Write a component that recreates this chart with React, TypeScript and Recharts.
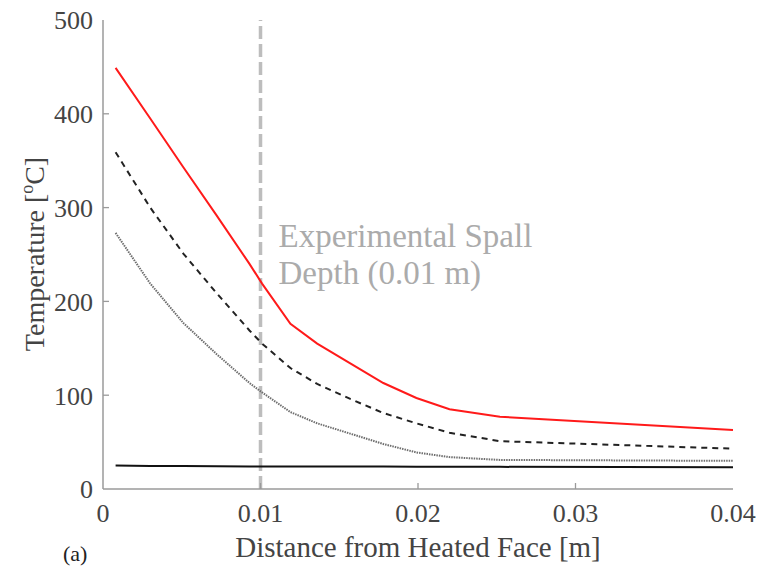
import React from "react";
import {
  LineChart,
  Line,
  XAxis,
  YAxis,
  ReferenceLine,
} from "recharts";

// distance from heated face [m]
const distances = [0.0008, 0.003, 0.0051, 0.0072, 0.0093, 0.0101, 0.0119, 0.0136, 0.0157, 0.0178, 0.0199, 0.022, 0.0252, 0.04];
// temperature profiles [°C]
const redTemps = [449, 395, 343, 292, 240, 219, 176, 155, 134, 113, 97, 85, 77, 63];
const dashedTemps = [359, 300, 251, 209, 169, 155, 129, 112, 96, 81, 70, 60, 51, 43];
const dottedTemps = [273, 219, 177, 144, 113, 103, 82, 70, 59, 48, 39, 34, 31, 30];
const baseTemps = [25, 24.6, 24.4, 24.2, 24, 24, 24, 24, 24, 24, 23.8, 23.7, 23.6, 23.3];

const xTicks = [0, 0.01, 0.02, 0.03, 0.04];
const yTicks = [0, 100, 200, 300, 400, 500];
const spallDepth = 0.01;

const data = distances.map((d, i) => ({
  x: d,
  red: redTemps[i],
  dashed: dashedTemps[i],
  dotted: dottedTemps[i],
  base: baseTemps[i],
}));

const FONT = "'Liberation Serif', 'Times New Roman', serif";
const FRAME = "#9a9a9a";
const TICK_TEXT = "#444";
const X_MARGIN = 13;
const Y_MARGIN = 10;

const fmtX = (v: number) => (v === 0 ? "0" : v.toFixed(2));

const BottomTick = ({ x, y, payload }: any) => {
  const v = payload.value;
  const axisY = y - X_MARGIN;
  const inner = v !== 0 && v !== 0.04;
  return (
    <g>
      {inner && <line x1={x} x2={x} y1={axisY} y2={axisY - 6} stroke={FRAME} strokeWidth={1.3} />}
      <text x={x} y={y} dy="0.75em" textAnchor="middle" fill={TICK_TEXT} style={{ fontSize: 26, fontFamily: FONT }}>
        {fmtX(v)}
      </text>
    </g>
  );
};

const TopTick = ({ x, y, payload }: any) => {
  const v = payload.value;
  if (v === 0 || v === 0.04) return <g />;
  return <line x1={x} x2={x} y1={y} y2={y + 6} stroke={FRAME} strokeWidth={1.3} />;
};

const LeftTick = ({ x, y, payload }: any) => {
  const v = payload.value;
  const axisX = x + Y_MARGIN;
  const inner = v !== 0 && v !== 500;
  return (
    <g>
      {inner && <line x1={axisX} x2={axisX + 6} y1={y} y2={y} stroke={FRAME} strokeWidth={1.3} />}
      <text x={x} y={y} dy="0.36em" textAnchor="end" fill={TICK_TEXT} style={{ fontSize: 26, fontFamily: FONT }}>
        {v}
      </text>
    </g>
  );
};

const RightTick = ({ x, y, payload }: any) => {
  const v = payload.value;
  if (v === 0 || v === 500) return <g />;
  return <line x1={x} x2={x - 6} y1={y} y2={y} stroke={FRAME} strokeWidth={1.3} />;
};

const YLabel = () => (
  <text
    x={0}
    y={0}
    transform="translate(44, 254) rotate(-90)"
    textAnchor="middle"
    fill={TICK_TEXT}
    style={{ fontSize: 28, fontFamily: FONT }}
  >
    Temperature [
    <tspan style={{ fontSize: 18 }} dy={-11}>o</tspan>
    <tspan dy={11}>C]</tspan>
  </text>
);

const XLabel = () => (
  <g>
    <text x={418} y={557} textAnchor="middle" fill={TICK_TEXT} style={{ fontSize: 29, fontFamily: FONT }}>
      Distance from Heated Face [m]
    </text>
    <text x={63} y={561} fill="#222" style={{ fontSize: 22, fontFamily: FONT }}>
      (a)
    </text>
  </g>
);

const SpallLabel = ({ viewBox }: any) => {
  const x = viewBox.x + 18;
  return (
    <g fill="#ababab" style={{ fontSize: 33, fontFamily: FONT }}>
      <text x={x} y={247}>Experimental Spall</text>
      <text x={x} y={284}>Depth (0.01 m)</text>
    </g>
  );
};

export default function App() {
  return (
    <div style={{ position: "absolute", left: 0, top: 0, background: "#fff" }}>
      <LineChart
        width={759}
        height={570}
        data={data}
        margin={{ top: 20, right: 26, left: 0, bottom: 0 }}
      >
        <XAxis
          dataKey="x"
          type="number"
          domain={[0, 0.04]}
          ticks={xTicks}
          interval={0}
          height={81}
          tickSize={0}
          tickMargin={X_MARGIN}
          tick={<BottomTick />}
          axisLine={{ stroke: FRAME, strokeWidth: 1.5 }}
          label={<XLabel />}
        />
        <XAxis
          xAxisId="top"
          orientation="top"
          dataKey="x"
          type="number"
          domain={[0, 0.04]}
          ticks={xTicks}
          interval={0}
          height={0}
          tickSize={0}
          tickMargin={0}
          tick={<TopTick />}
          axisLine={{ stroke: FRAME, strokeWidth: 1.5 }}
        />
        <YAxis
          type="number"
          domain={[0, 500]}
          ticks={yTicks}
          interval={0}
          width={103}
          tickSize={0}
          tickMargin={Y_MARGIN}
          tick={<LeftTick />}
          axisLine={{ stroke: FRAME, strokeWidth: 1.5 }}
          label={<YLabel />}
        />
        <YAxis
          yAxisId="right"
          orientation="right"
          type="number"
          domain={[0, 500]}
          ticks={yTicks}
          interval={0}
          width={0}
          tickSize={0}
          tickMargin={0}
          tick={<RightTick />}
          axisLine={{ stroke: FRAME, strokeWidth: 1.5 }}
        />
        <ReferenceLine
          x={spallDepth}
          stroke="#bdbdbd"
          strokeWidth={3.5}
          strokeDasharray="13 5"
          label={<SpallLabel />}
        />
        <Line
          dataKey="base"
          stroke="#111"
          strokeWidth={2}
          dot={false}
          isAnimationActive={false}
        />
        <Line
          dataKey="dotted"
          stroke="#6e6e6e"
          strokeWidth={2}
          strokeDasharray="1.5 1"
          dot={false}
          isAnimationActive={false}
        />
        <Line
          dataKey="dashed"
          stroke="#222"
          strokeWidth={2}
          strokeDasharray="6 5"
          dot={false}
          isAnimationActive={false}
        />
        <Line
          dataKey="red"
          stroke="#ff1a1a"
          strokeWidth={2}
          dot={false}
          isAnimationActive={false}
        />
      </LineChart>
    </div>
  );
}
